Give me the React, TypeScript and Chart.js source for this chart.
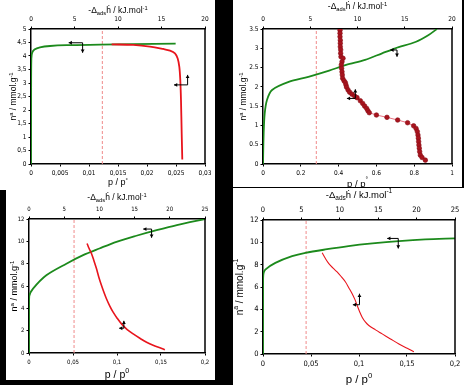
import React, { useEffect, useRef } from 'react';
import { Chart, registerables } from 'chart.js';
Chart.register(...registerables);

// ---------- Top-left panel ----------
const TL_GREEN_P = [0, 0.00002, 0.00006, 0.0002, 0.0006, 0.00155, 0.00328, 0.00615, 0.0119, 0.01764, 0.02494];
const TL_GREEN_N = [0, 2.5, 3.9, 4.12, 4.24, 4.32, 4.37, 4.4, 4.42, 4.44, 4.46];
const TL_RED_H = [9.27, 11.76, 13.68, 15.2, 15.98, 16.55, 16.86, 17.05, 17.16, 17.24, 17.32, 17.39];
const TL_RED_N = [4.43, 4.41, 4.35, 4.26, 4.2, 4.1, 3.91, 3.6, 3.11, 2.37, 1.14, 0.17];
const TL_DASH = 0.0123;
// arrows: [cornerP, cornerN, headP, headN]
const TL_ARROWS = [
  [0.0089, 4.49, 0.0065, 4.12],
  [0.027, 2.93, 0.02466, 3.3],
];

// ---------- Top-right panel ----------
const TR_GREEN_P = [0, 0.0035, 0.009, 0.021, 0.048, 0.136, 0.24, 0.35, 0.44, 0.54, 0.63, 0.7, 0.81, 0.872, 0.92];
const TR_GREEN_N = [0, 0.8, 1.31, 1.66, 1.92, 2.13, 2.26, 2.42, 2.57, 2.7, 2.87, 3.0, 3.17, 3.33, 3.5];
const TR_RED_H = [8.15, 8.15, 8.15, 8.18, 8.18, 8.18, 8.22, 8.22, 8.25, 8.47, 8.36, 8.29, 8.32, 8.36, 8.39, 8.43, 8.57, 8.71, 8.78, 8.85, 9.0, 9.17, 9.42, 9.7, 9.95, 10.3, 10.55, 10.76, 10.97, 11.1, 11.25, 12.0, 13.12, 14.25, 15.3, 15.94, 16.2, 16.33, 16.4, 16.44, 16.47, 16.5, 16.54, 16.58, 16.65, 16.83, 17.18];
const TR_RED_N = [3.47, 3.39, 3.3, 3.21, 3.13, 3.04, 2.96, 2.87, 2.78, 2.74, 2.65, 2.57, 2.48, 2.39, 2.31, 2.22, 2.16, 2.11, 2.05, 1.99, 1.92, 1.86, 1.81, 1.76, 1.72, 1.64, 1.57, 1.5, 1.44, 1.38, 1.33, 1.27, 1.21, 1.14, 1.07, 0.99, 0.92, 0.84, 0.75, 0.67, 0.58, 0.49, 0.41, 0.32, 0.23, 0.17, 0.1];
const TR_DASH = 0.282;
const TR_ARROWS = [
  [0.709, 2.956, 0.674, 2.78],
  [0.4885, 1.7, 0.444, 1.936],
];

// ---------- Bottom-left panel ----------
const BL_GREEN_P = [0, 0.00005, 0.0003, 0.0046, 0.0197, 0.0425, 0.0615, 0.08, 0.0994, 0.122, 0.145, 0.168, 0.2];
const BL_GREEN_N = [0, 4.2, 5.1, 5.76, 6.96, 8.0, 8.76, 9.36, 9.96, 10.5, 11.0, 11.46, 12.0];
const BL_RED_H = [8.25, 8.54, 8.87, 9.2, 9.58, 9.91, 10.29, 10.63, 11.0, 11.48, 11.95, 12.52, 13.14, 13.95, 14.8, 15.75, 16.7, 17.88, 19.07, 19.3];
const BL_RED_N = [9.81, 9.36, 8.91, 8.31, 7.56, 6.81, 6.06, 5.46, 4.86, 4.2, 3.66, 3.12, 2.61, 2.1, 1.71, 1.32, 0.96, 0.63, 0.36, 0.3];
const BL_DASH = 0.0512;
const BL_ARROWS = [
  [0.1393, 11.1, 0.1298, 10.32],
  [0.1078, 2.22, 0.1025, 2.88],
];

// ---------- Bottom-right panel ----------
const BR_GREEN_P = [0, 0.00005, 0.0005, 0.0024, 0.0129, 0.0303, 0.0442, 0.065, 0.089, 0.114, 0.1416, 0.169, 0.2];
const BR_GREEN_N = [0, 6.2, 7.2, 7.56, 8.16, 8.76, 9.06, 9.36, 9.66, 9.9, 10.11, 10.26, 10.35];
const BR_RED_H = [7.7, 8.13, 8.57, 9.09, 9.65, 10.22, 10.74, 11.17, 11.61, 11.96, 12.26, 12.57, 12.91, 13.35, 13.78, 14.65, 15.52, 16.6, 17.7, 18.78, 19.65];
const BR_RED_N = [9.06, 8.55, 8.1, 7.71, 7.35, 6.9, 6.45, 5.94, 5.4, 4.89, 4.35, 3.81, 3.3, 2.85, 2.55, 2.16, 1.8, 1.35, 0.9, 0.51, 0.21];
const BR_DASH = 0.0449;
const BR_ARROWS = [
  [0.1409, 10.35, 0.1294, 9.45],
  [0.1005, 4.41, 0.0936, 5.4],
];

const FONT = '"Liberation Sans", Arial, sans-serif';
const NARROW = '"Liberation Sans Narrow", "DejaVu Sans Condensed", "Liberation Sans", Arial, sans-serif';
const GREEN = '#1c8a1c';
const RED = '#e8141c';

type Part = [string, 'n' | 'sup' | 'sub'];

function drawRich(ctx: CanvasRenderingContext2D, parts: Part[], size: number, cx: number, cy: number, rotate: boolean) {
  ctx.save();
  ctx.translate(cx, cy);
  if (rotate) ctx.rotate(-Math.PI / 2);
  const small = size * 0.68;
  const widths = parts.map((p) => {
    ctx.font = `${p[1] === 'n' ? size : small}px ${FONT}`;
    return ctx.measureText(p[0]).width;
  });
  const total = widths.reduce((a, b) => a + b, 0);
  let x = -total / 2;
  ctx.textBaseline = 'middle';
  ctx.textAlign = 'left';
  ctx.fillStyle = '#000';
  parts.forEach((p, i) => {
    ctx.font = `${p[1] === 'n' ? size : small}px ${FONT}`;
    const dy = p[1] === 'sup' ? -size * 0.35 : p[1] === 'sub' ? size * 0.3 : 0;
    ctx.fillText(p[0], x, dy);
    x += widths[i];
  });
  ctx.restore();
}

type Spec = {
  box: { left: number; top: number; width: number; height: number };
  plot: { left: number; top: number; right: number; bottom: number };
  xMax: number; xStep: number; comma: boolean;
  x2Max: number; x2Step: number;
  yMax: number; yStep: number; yComma: boolean;
  greenP: number[]; greenN: number[];
  redH: number[]; redN: number[];
  redWidth: number; dots: boolean;
  dash: number;
  arrows: number[][];
  tickSize: number;
  titles: { bottom: number; y: number; top: number; bOff: number; yOff: number; tOff: number; pSym: string };
};

const SPECS: Spec[] = [
  {
    box: { left: 0, top: 0, width: 215, height: 190 },
    plot: { left: 31, top: 29, right: 205, bottom: 164 },
    xMax: 0.03, xStep: 0.005, comma: true, x2Max: 20, x2Step: 5, yMax: 5, yStep: 0.5, yComma: true,
    greenP: TL_GREEN_P, greenN: TL_GREEN_N, redH: TL_RED_H, redN: TL_RED_N, redWidth: 1.8, dots: false,
    dash: TL_DASH, arrows: TL_ARROWS, tickSize: 6.5,
    titles: { bottom: 9, y: 8.5, top: 8.5, bOff: 19, yOff: 17, tOff: 18, pSym: '°' },
  },
  {
    box: { left: 233, top: 0, width: 229, height: 187 },
    plot: { left: 30, top: 29, right: 219, bottom: 164 },
    xMax: 1, xStep: 0.2, comma: false, x2Max: 20, x2Step: 5, yMax: 3.5, yStep: 0.5, yComma: false,
    greenP: TR_GREEN_P, greenN: TR_GREEN_N, redH: TR_RED_H, redN: TR_RED_N, redWidth: 1, dots: true,
    dash: TR_DASH, arrows: TR_ARROWS, tickSize: 6.5,
    titles: { bottom: 9.5, y: 8.5, top: 8.5, bOff: 20, yOff: 19, tOff: 22, pSym: '°' },
  },
  {
    box: { left: 6, top: 190, width: 209, height: 190 },
    plot: { left: 23, top: 29, right: 199, bottom: 163 },
    xMax: 0.2, xStep: 0.05, comma: true, x2Max: 25, x2Step: 5, yMax: 12, yStep: 2, yComma: true,
    greenP: BL_GREEN_P, greenN: BL_GREEN_N, redH: BL_RED_H, redN: BL_RED_N, redWidth: 1.6, dots: false,
    dash: BL_DASH, arrows: BL_ARROWS, tickSize: 6,
    titles: { bottom: 10.5, y: 9, top: 8.5, bOff: 22, yOff: 14, tOff: 21, pSym: '0' },
  },
  {
    box: { left: 233, top: 188, width: 231, height: 197 },
    plot: { left: 30, top: 32, right: 222, bottom: 166 },
    xMax: 0.2, xStep: 0.05, comma: true, x2Max: 25, x2Step: 5, yMax: 12, yStep: 2, yComma: true,
    greenP: BR_GREEN_P, greenN: BR_GREEN_N, redH: BR_RED_H, redN: BR_RED_N, redWidth: 1.1, dots: false,
    dash: BR_DASH, arrows: BR_ARROWS, tickSize: 7.5,
    titles: { bottom: 11.5, y: 10, top: 9.5, bOff: 26, yOff: 23, tOff: 25, pSym: '0' },
  },
];

function fmt(v: number, comma: boolean) {
  const s = String(Number(v.toFixed(4)));
  return comma ? s.replace('.', ',') : s;
}

function drawArrowHead(ctx: CanvasRenderingContext2D, x: number, y: number, dx: number, dy: number) {
  const len = Math.hypot(dx, dy) || 1;
  const ux = dx / len, uy = dy / len;
  const s = 3.2;
  ctx.beginPath();
  ctx.moveTo(x, y);
  ctx.lineTo(x - ux * s - uy * s * 0.6, y - uy * s + ux * s * 0.6);
  ctx.lineTo(x - ux * s + uy * s * 0.6, y - uy * s - ux * s * 0.6);
  ctx.closePath();
  ctx.fill();
}

function Panel({ spec }: { spec: Spec }) {
  const ref = useRef<HTMLCanvasElement>(null);
  useEffect(() => {
    if (!ref.current) return;
    const W = spec.box.width, H = spec.box.height;
    const green = spec.greenP.map((p, i) => ({ x: p, y: spec.greenN[i] }));
    const red = spec.redH.map((h, i) => ({ x: h, y: spec.redN[i] }));
    const dashData = [{ x: spec.dash, y: 0 }, { x: spec.dash, y: spec.yMax }];
    const t = spec.titles;

    const overlay = {
      id: 'overlay',
      afterDatasetsDraw(chart: any) {
        const ctx: CanvasRenderingContext2D = chart.ctx;
        const a = chart.chartArea;
        const xs = chart.scales.x, ys = chart.scales.y;
        ctx.save();
        ctx.strokeStyle = '#000';
        ctx.lineWidth = 1.5;
        ctx.beginPath();
        ctx.moveTo(a.right, a.top);
        ctx.lineTo(a.right, a.bottom);
        ctx.stroke();
        ctx.lineWidth = 1;
        ctx.fillStyle = '#000';
        spec.arrows.forEach(([cp, cn, hp, hn]) => {
          const cx = xs.getPixelForValue(cp), cy = ys.getPixelForValue(cn);
          const hx = xs.getPixelForValue(hp), vy = ys.getPixelForValue(hn);
          ctx.beginPath();
          ctx.moveTo(hx, cy);
          ctx.lineTo(cx, cy);
          ctx.lineTo(cx, vy);
          ctx.stroke();
          drawArrowHead(ctx, hx, cy, hx - cx, 0);
          drawArrowHead(ctx, cx, vy, 0, vy - cy);
        });
        ctx.restore();
      },
      afterDraw(chart: any) {
        const ctx: CanvasRenderingContext2D = chart.ctx;
        const a = chart.chartArea;
        const mx = (a.left + a.right) / 2, my = (a.top + a.bottom) / 2;
        drawRich(ctx, [['p / p', 'n'], [t.pSym, 'sup']], t.bottom, mx, a.bottom + t.bOff, false);
        drawRich(ctx, [['n', 'n'], ['a', 'sup'], [' / mmol.g', 'n'], ['-1', 'sup']], t.y, a.left - t.yOff, my, true);
        drawRich(ctx, [['-Δ', 'n'], ['ads', 'sub'], ['ḣ / kJ.mol', 'n'], ['-1', 'sup']], t.top, mx, a.top - t.tOff, false);
      },
    };

    const tickFont = { family: NARROW, size: spec.tickSize };
    const grid = { drawOnChartArea: false, drawTicks: true, tickLength: 2.5, color: '#000', lineWidth: 1 };
    const border = { display: true, color: '#000', width: 1.5 };

    const chart = new Chart(ref.current, {
      type: 'scatter',
      data: {
        datasets: [
          {
            data: red, xAxisID: 'x2', yAxisID: 'y', showLine: true,
            borderColor: spec.dots ? '#e87080' : RED, borderWidth: spec.redWidth,
            pointRadius: spec.dots ? 2.3 : 0, pointBackgroundColor: '#a8141e', pointBorderColor: '#8a0f18', pointBorderWidth: 0.6,
            tension: spec.dots ? 0 : 0.35,
          },
          {
            data: green, xAxisID: 'x', yAxisID: 'y', showLine: true,
            borderColor: GREEN, borderWidth: 1.8, pointRadius: 0, tension: 0.3,
          },
          {
            data: dashData, xAxisID: 'x', yAxisID: 'y', showLine: true,
            borderColor: '#f08a8a', borderWidth: 1, borderDash: [3, 2], pointRadius: 0,
          },
        ],
      },
      options: {
        animation: false,
        responsive: true,
        maintainAspectRatio: false,
        layout: { padding: { left: 0, top: 0, bottom: 0, right: W - spec.plot.right } },
        plugins: { legend: { display: false }, tooltip: { enabled: false } },
        scales: {
          x: {
            type: 'linear', position: 'bottom', min: 0, max: spec.xMax,
            ticks: { stepSize: spec.xStep, font: tickFont, color: '#000', padding: 3, maxRotation: 0, callback: (v: any) => fmt(Number(v), spec.comma) },
            grid, border,
            afterFit: (s: any) => { s.height = H - spec.plot.bottom; s.paddingLeft = 0; s.paddingRight = 0; },
          },
          x2: {
            type: 'linear', position: 'top', min: 0, max: spec.x2Max,
            ticks: { stepSize: spec.x2Step, font: tickFont, color: '#000', padding: 3, maxRotation: 0 },
            grid, border,
            afterFit: (s: any) => { s.height = spec.plot.top; s.paddingLeft = 0; s.paddingRight = 0; },
          },
          y: {
            type: 'linear', position: 'left', min: 0, max: spec.yMax,
            ticks: { stepSize: spec.yStep, font: tickFont, color: '#000', padding: 2, callback: (v: any) => fmt(Number(v), spec.yComma) },
            grid, border,
            afterFit: (s: any) => { s.width = spec.plot.left; s.paddingTop = 0; s.paddingBottom = 0; },
          },
        },
      } as any,
      plugins: [overlay],
    });
    return () => chart.destroy();
  }, [spec]);

  return (
    <div style={{ position: 'absolute', left: spec.box.left, top: spec.box.top, width: spec.box.width, height: spec.box.height, background: '#fff' }}>
      <canvas ref={ref} />
    </div>
  );
}

export default function App() {
  return (
    <div style={{ position: 'fixed', left: 0, top: 0, width: 464, height: 385, background: '#000', overflow: 'hidden' }}>
      {SPECS.map((s, i) => (
        <Panel key={i} spec={s} />
      ))}
    </div>
  );
}
